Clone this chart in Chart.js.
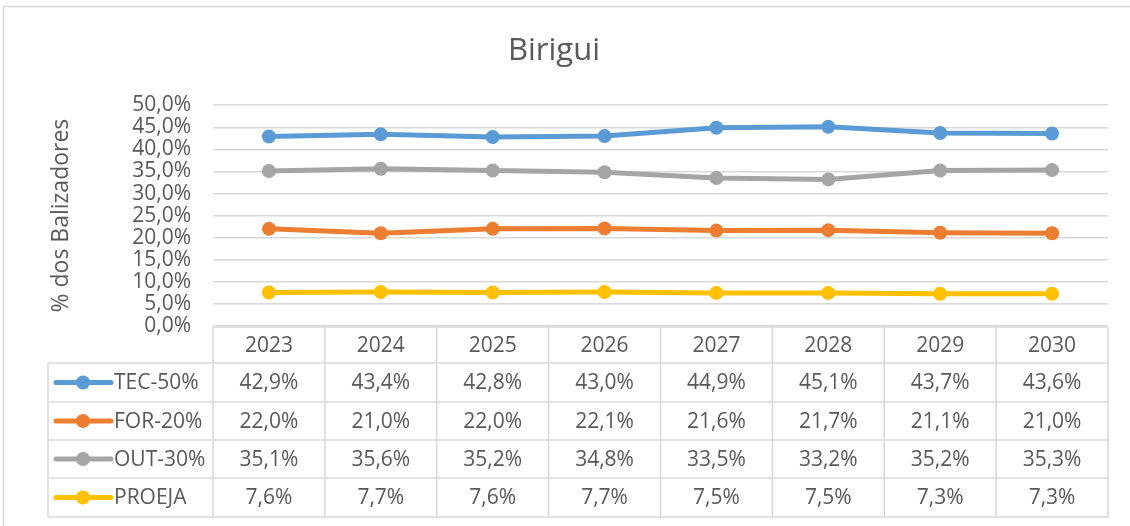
<!DOCTYPE html>
<html>
<head>
<meta charset="utf-8">
<script src="https://cdn.jsdelivr.net/npm/chart.js@4/dist/chart.umd.min.js"></script>
<style>
  html, body { margin: 0; padding: 0; background: #fff; }
  #wrap { width: 1130px; height: 526px; }
</style>
</head>
<body>
<div id="wrap"><canvas id="chart" width="1130" height="526"></canvas></div>
<script>
// data
const years = ['2023', '2024', '2025', '2026', '2027', '2028', '2029', '2030'];
const seriesNames = ['TEC-50%', 'FOR-20%', 'OUT-30%', 'PROEJA'];
const tecValues = [42.9, 43.4, 42.8, 43.0, 44.9, 45.1, 43.7, 43.6];
const forValues = [22.0, 21.0, 22.0, 22.1, 21.6, 21.7, 21.1, 21.0];
const outValues = [35.1, 35.6, 35.2, 34.8, 33.5, 33.2, 35.2, 35.3];
const proejaValues = [7.6, 7.7, 7.6, 7.7, 7.5, 7.5, 7.3, 7.3];
const seriesColors = ['#5b9bd5', '#ed7d31', '#a5a5a5', '#ffc000'];

const allValues = [tecValues, forValues, outValues, proejaValues];
const fmt = v => v.toFixed(1).replace('.', ',') + '%';

const FONT = "'Open Sans', 'Noto Sans', sans-serif";
const TEXT = '#595959';
const LINE = '#d9d9d9';

// outer frame of the chart
const framePlugin = {
  id: 'frame',
  beforeDraw(chart) {
    const ctx = chart.ctx;
    ctx.save();
    ctx.strokeStyle = LINE;
    ctx.lineWidth = 1.5;
    ctx.strokeRect(3.5, 6.5, 1140, 540);
    ctx.restore();
  }
};

// data table under the plot, with legend keys
const tablePlugin = {
  id: 'dataTable',
  afterDraw(chart) {
    const ctx = chart.ctx;
    const area = chart.chartArea;
    const xs = chart.scales.x;
    const colW = (area.right - area.left) / years.length;
    const legendLeft = 48;
    const rowEdges = [327, 363, 402, 440, 478, 517];

    ctx.save();
    ctx.strokeStyle = LINE;
    ctx.lineWidth = 1.5;
    ctx.beginPath();
    ctx.moveTo(area.left, rowEdges[0]);
    ctx.lineTo(area.right, rowEdges[0]);
    for (let r = 1; r < rowEdges.length; r++) {
      ctx.moveTo(legendLeft, rowEdges[r]);
      ctx.lineTo(area.right, rowEdges[r]);
    }
    ctx.moveTo(legendLeft, rowEdges[1]);
    ctx.lineTo(legendLeft, rowEdges[5]);
    for (let c = 0; c <= years.length; c++) {
      const x = area.left + c * colW;
      ctx.moveTo(x, rowEdges[0]);
      ctx.lineTo(x, rowEdges[5]);
    }
    ctx.stroke();

    ctx.font = '21px ' + FONT;
    ctx.fillStyle = TEXT;
    ctx.textAlign = 'center';
    ctx.textBaseline = 'middle';
    years.forEach((y, i) => {
      ctx.fillText(y, xs.getPixelForValue(i), (rowEdges[0] + rowEdges[1]) / 2 + 1);
    });

    allValues.forEach((vals, r) => {
      const cy = (rowEdges[r + 1] + rowEdges[r + 2]) / 2 + 1;
      vals.forEach((v, i) => {
        ctx.fillStyle = TEXT;
        ctx.textAlign = 'center';
        ctx.fillText(fmt(v), xs.getPixelForValue(i), cy);
      });
      // legend key
      ctx.strokeStyle = seriesColors[r];
      ctx.lineWidth = 5;
      ctx.lineCap = 'round';
      ctx.beginPath();
      ctx.moveTo(56, cy - 1);
      ctx.lineTo(111, cy - 1);
      ctx.stroke();
      ctx.fillStyle = seriesColors[r];
      ctx.beginPath();
      ctx.arc(83, cy - 1, 7, 0, Math.PI * 2);
      ctx.fill();
      ctx.fillStyle = TEXT;
      ctx.textAlign = 'left';
      ctx.fillText(seriesNames[r], 114, cy);
    });
    ctx.restore();
  }
};

new Chart(document.getElementById('chart'), {
  type: 'line',
  data: {
    labels: years,
    datasets: seriesNames.map((name, i) => ({
      label: name,
      data: allValues[i],
      borderColor: seriesColors[i],
      backgroundColor: seriesColors[i],
      borderWidth: 5,
      pointRadius: 7,
      pointHoverRadius: 7,
      pointBorderWidth: 0,
      tension: 0
    }))
  },
  options: {
    responsive: false,
    animation: false,
    layout: { padding: { left: 0, right: 22, top: 0, bottom: 200 } },
    plugins: {
      legend: { display: false },
      tooltip: { enabled: false },
      title: {
        display: true,
        text: 'Birigui',
        color: TEXT,
        font: { family: FONT, size: 31, weight: 'normal' },
        padding: { top: 33, bottom: 35 }
      }
    },
    scales: {
      x: {
        display: false,
        offset: true
      },
      y: {
        min: 0,
        max: 50,
        afterFit(scale) { scale.width = 213; },
        border: { display: false },
        grid: { color: LINE, lineWidth: 1.5, drawTicks: false },
        ticks: {
          stepSize: 5,
          autoSkip: false,
          padding: 22,
          color: TEXT,
          font: { family: FONT, size: 21 },
          callback: v => fmt(v)
        },
        title: {
          display: true,
          text: '% dos Balizadores',
          color: TEXT,
          font: { family: FONT, size: 23 },
          padding: { top: 48, bottom: 0 }
        }
      }
    }
  },
  plugins: [framePlugin, tablePlugin]
});
</script>
</body>
</html>
